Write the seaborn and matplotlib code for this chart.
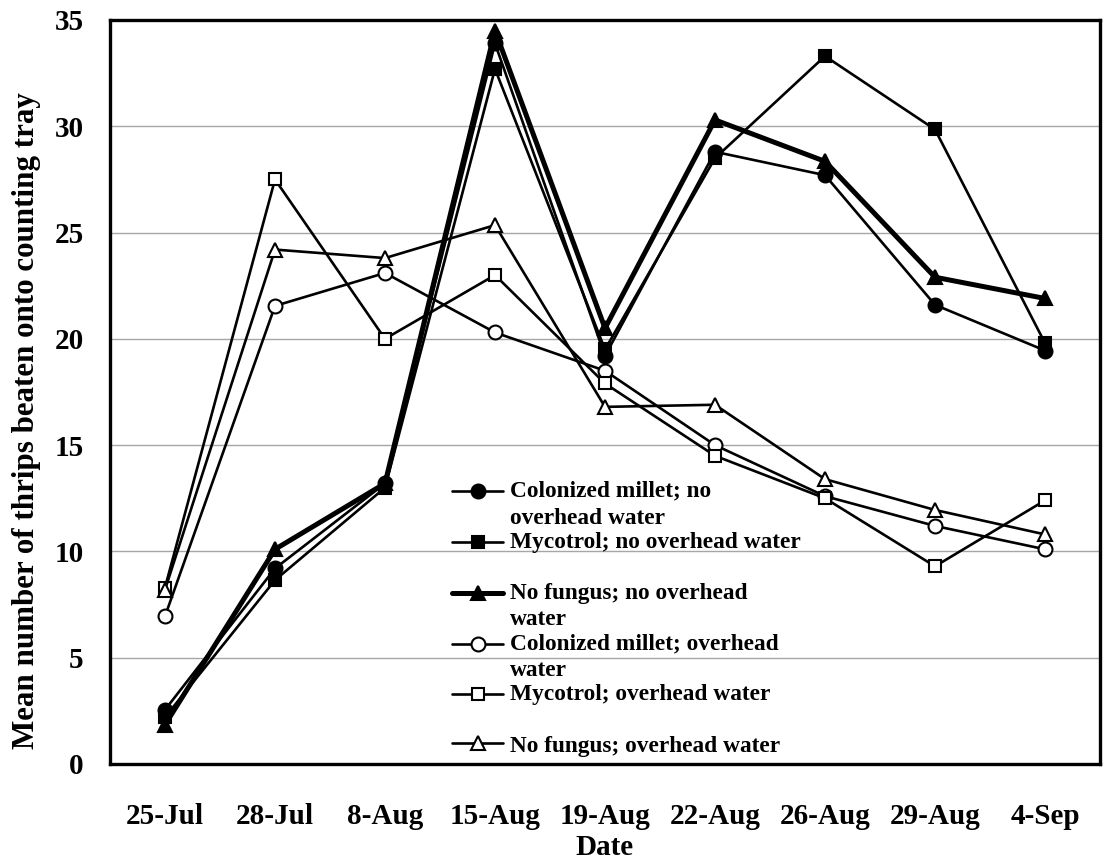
import matplotlib
matplotlib.use("Agg")
import matplotlib.pyplot as plt
import seaborn as sns
import pandas as pd
import numpy as np
from matplotlib.legend_handler import HandlerLine2D
from matplotlib.ticker import FixedLocator

dates = ['25-Jul', '28-Jul', '8-Aug', '15-Aug', '19-Aug', '22-Aug', '26-Aug', '29-Aug', '4-Sep']
cm_no = [2.55, 9.2, 13.2, 33.9, 19.2, 28.8, 27.7, 21.6, 19.45]
myc_no = [2.2, 8.65, 13.0, 32.7, 19.5, 28.5, 33.3, 29.85, 19.8]
nf_no = [1.85, 10.1, 13.2, 34.5, 20.5, 30.3, 28.35, 22.9, 21.9]
cm_ov = [6.95, 21.55, 23.1, 20.3, 18.5, 15.0, 12.6, 11.2, 10.1]
myc_ov = [8.3, 27.5, 20.0, 23.0, 17.9, 14.5, 12.5, 9.3, 12.4]
nf_ov = [8.2, 24.2, 23.8, 25.35, 16.8, 16.9, 13.4, 11.95, 10.8]

labels = ['Colonized millet; no\noverhead water',
          'Mycotrol; no overhead water\n ',
          'No fungus; no overhead\nwater',
          'Colonized millet; overhead\nwater',
          'Mycotrol; overhead water\n ',
          'No fungus; overhead water']
series = [cm_no, myc_no, nf_no, cm_ov, myc_ov, nf_ov]

sns.set_theme(style="white")
plt.rcParams['font.family'] = ['Liberation Serif', 'DejaVu Serif']
plt.rcParams['font.weight'] = 'bold'
plt.rcParams['text.color'] = 'black'
plt.rcParams['axes.labelcolor'] = 'black'
plt.rcParams['xtick.labelcolor'] = 'black'
plt.rcParams['ytick.labelcolor'] = 'black'

fig = plt.figure(figsize=(11.07, 8.61), dpi=100)
ax = fig.add_axes([110/1107, 1 - 764/861, 990/1107, 744/861])

styles = [
    dict(marker='o', mfc='black', ms=10, lw=1.9),
    dict(marker='s', mfc='black', ms=9.3, lw=1.9),
    dict(marker='^', mfc='black', ms=10.5, lw=3.6),
    dict(marker='o', mfc='white', ms=10, lw=1.9),
    dict(marker='s', mfc='white', ms=9.3, lw=1.9),
    dict(marker='^', mfc='white', ms=10.5, lw=1.9),
]

xpos = np.arange(len(dates))
for vals, lab, st in zip(series, labels, styles):
    df = pd.DataFrame({'x': xpos, 'y': vals})
    sns.lineplot(data=df, x='x', y='y', ax=ax, color='black', label=lab,
                 marker=st['marker'], markersize=st['ms'], linewidth=st['lw'],
                 markerfacecolor=st['mfc'], markeredgecolor='black',
                 markeredgewidth=1.5, sort=False, zorder=3)

ax.set_xlim(-0.5, len(dates) - 0.5)
ax.set_ylim(0, 35)
ax.set_yticks(np.arange(0, 36, 5))
ax.set_xticks(xpos)
ax.set_xticklabels(dates, fontsize=21, fontweight='bold')
ax.xaxis.set_minor_locator(FixedLocator(np.arange(-0.5, len(dates), 1.0)))
ax.tick_params(axis='x', which='major', length=0, pad=28)
ax.tick_params(axis='x', which='minor', length=6, width=1, color='#a0a0a0', direction='out')
ax.tick_params(axis='y', which='major', length=7, width=1, color='#a0a0a0', direction='out',
               labelsize=21, pad=12)
for t in ax.get_yticklabels():
    t.set_fontweight('bold')
ax.yaxis.grid(True, color='#a6a6a6', linewidth=1)
ax.xaxis.grid(False)
ax.set_axisbelow(True)
for s in ax.spines.values():
    s.set_visible(True)
    s.set_color('black')
    s.set_linewidth(2.4)

ax.set_xlabel('Date', fontsize=21, fontweight='bold', labelpad=3)
ax.set_ylabel('Mean number of thrips beaten onto counting tray', fontsize=22.3,
              fontweight='bold')
ax.yaxis.set_label_coords(-0.07, 0.462)


class TopLine(HandlerLine2D):
    def __init__(self, shift, **kw):
        super().__init__(**kw)
        self.shift = shift

    def create_artists(self, legend, orig_handle, xdescent, ydescent, width, height, fontsize, trans):
        arts = super().create_artists(legend, orig_handle, xdescent, ydescent,
                                      width, height, fontsize, trans)
        for a in arts:
            y = np.asarray(a.get_ydata(), dtype=float)
            a.set_ydata(y + self.shift * fontsize)
        return arts


LS = 1.35
handles, labs = ax.get_legend_handles_labels()
hmap = {h: TopLine(shift=(0.58 if '\n' in l else 0.0)) for h, l in zip(handles, labs)}
leg = ax.legend(handles, labs, loc='lower left', bbox_to_anchor=(0.329, -0.012),
                frameon=False, handlelength=2.2, handletextpad=0.3,
                labelspacing=0.14, borderpad=0.2, handler_map=hmap,
                prop={'weight': 'bold', 'size': 16.8})
for t in leg.get_texts():
    t.set_linespacing(LS)

fig.savefig('out.png', dpi=100)
